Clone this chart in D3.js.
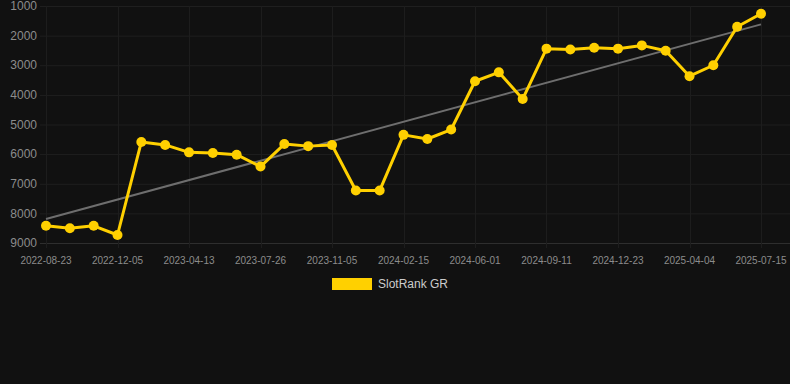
<!DOCTYPE html>
<meta charset="utf-8">
<style>
  body { margin: 0; background: #111111; }
  svg { display: block; font-family: "Liberation Sans", Arial, sans-serif; }
</style>
<body>
<script src="https://d3js.org/d3.v7.min.js"></script>
<script>
  // x tick labels, one every 3rd point
  var tickLabels = ["2022-08-23", "2022-12-05", "2023-04-13", "2023-07-26", "2023-11-05",
    "2024-02-15", "2024-06-01", "2024-09-11", "2024-12-23", "2025-04-04", "2025-07-15"];
  // rank values (lower is better), one per point
  var ranks = [8420, 8500, 8420, 8730, 5590, 5690, 5940, 5960, 6020, 6420,
    5660, 5730, 5690, 7230, 7230, 5350, 5490, 5170, 3540, 3240,
    4140, 2440, 2470, 2410, 2440, 2330, 2510, 3370, 3000, 1700, 1260];
  var yTicks = [1000, 2000, 3000, 4000, 5000, 6000, 7000, 8000, 9000];
  var seriesName = "SlotRank GR";

  var W = 790, H = 384;
  var svg = d3.select("body").append("svg")
          .attr("width", W)
          .attr("height", H);

  var plotLeft = 40, plotRight = 790, plotTop = 6, plotBottom = 243;

  var x = d3.scaleLinear().domain([0, ranks.length - 1]).range([46, 761]);
  var y = d3.scaleLinear().domain([1000, 9000]).range([plotTop, plotBottom]);

  // grid
  svg.append("g").selectAll("line")
      .data(yTicks)
      .enter().append("line")
      .attr("x1", plotLeft).attr("x2", plotRight)
      .attr("y1", function(d) { return y(d) + 0.5; })
      .attr("y2", function(d) { return y(d) + 0.5; })
      .style("stroke", function(d) { return d === 9000 ? "#2e2e2e" : "#1f1f1f"; })
      .style("stroke-width", 1);

  var tickIdx = tickLabels.map(function(d, i) { return i * 3; });
  svg.append("g").selectAll("line")
      .data(tickIdx)
      .enter().append("line")
      .attr("x1", function(d) { return Math.round(x(d)) + 0.5; })
      .attr("x2", function(d) { return Math.round(x(d)) + 0.5; })
      .attr("y1", plotTop).attr("y2", plotBottom + 5)
      .style("stroke", "#1d1d1d")
      .style("stroke-width", 1);

  // y labels
  svg.append("g").selectAll("text")
      .data(yTicks)
      .enter().append("text")
      .attr("x", 37)
      .attr("y", function(d) { return y(d); })
      .attr("dy", "0.35em")
      .attr("text-anchor", "end")
      .style("font-size", "12px")
      .style("fill", "#8c8c8c")
      .text(function(d) { return d; });

  // x labels
  svg.append("g").selectAll("text")
      .data(tickLabels)
      .enter().append("text")
      .attr("x", function(d, i) { return x(i * 3); })
      .attr("y", 260)
      .attr("dy", "0.35em")
      .attr("text-anchor", "middle")
      .style("font-size", "10px")
      .style("fill", "#8c8c8c")
      .text(function(d) { return d; });

  // trend line (least squares)
  var n = ranks.length;
  var mx = d3.mean(ranks, function(d, i) { return i; });
  var my = d3.mean(ranks);
  var sxy = d3.sum(ranks, function(d, i) { return (i - mx) * (d - my); });
  var sxx = d3.sum(ranks, function(d, i) { return (i - mx) * (i - mx); });
  var slope = sxy / sxx, icpt = my - slope * mx;

  svg.append("line")
      .attr("x1", x(0)).attr("y1", y(icpt))
      .attr("x2", x(n - 1)).attr("y2", y(icpt + slope * (n - 1)))
      .style("stroke", "#6e6e6e")
      .style("stroke-width", 2);

  var line = d3.line()
      .x(function(d, i) { return x(i); })
      .y(function(d) { return y(d); });

  svg.append("path")
      .datum(ranks)
      .attr("d", line)
      .style("fill", "none")
      .style("stroke", "#ffd000")
      .style("stroke-width", 3)
      .style("stroke-linejoin", "round");

  svg.append("g").selectAll("circle")
      .data(ranks)
      .enter().append("circle")
      .attr("cx", function(d, i) { return x(i); })
      .attr("cy", function(d) { return y(d); })
      .attr("r", 5)
      .style("fill", "#ffd000");

  // legend
  var legend = svg.append("g");
  legend.append("rect")
      .attr("x", 332).attr("y", 278)
      .attr("width", 40).attr("height", 12)
      .style("fill", "#ffd000");
  legend.append("text")
      .attr("x", 378).attr("y", 284)
      .attr("dy", "0.35em")
      .style("font-size", "12px")
      .style("fill", "#cccccc")
      .text(seriesName);
</script>
</body>
